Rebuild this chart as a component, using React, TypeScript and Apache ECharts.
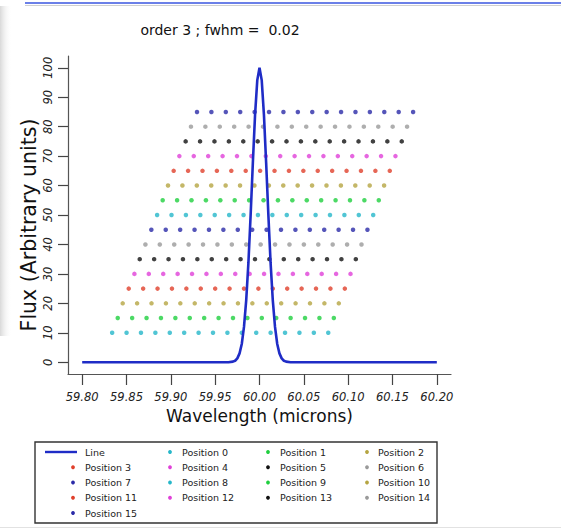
import React, { useEffect, useRef } from "react";
import * as echarts from "echarts";

// ---- text ----
const chartTitle = "order 3 ; fwhm =  0.02";
const xTitle = "Wavelength (microns)";
const yTitle = "Flux (Arbitrary units)";
const lineName = "Line";

// ---- axes (tick range and step) ----
const xTickMin = 59.8;
const xTickMax = 60.2;
const xTickStep = 0.05;
const yTickMin = 0;
const yTickMax = 100;
const yTickStep = 10;
// plotting region extends 4% beyond the tick range on every side
const xPad = 0.016;
const yPad = 4;

// ---- line profile (wavelength, flux) ----
const lineWavelength = [
  59.8, 59.965, 59.97, 59.9725, 59.975, 59.9775, 59.98, 59.9825, 59.985, 59.9875,
  59.99, 59.9925, 59.995, 59.9975, 60.0, 60.0025, 60.005, 60.0075, 60.01, 60.0125,
  60.015, 60.0175, 60.02, 60.0225, 60.025, 60.0275, 60.03, 60.035, 60.2,
];
const lineFlux = [
  0, 0, 0.2, 0.5, 1.3, 3.0, 6.2, 12.0, 21.0, 33.8,
  50.0, 67.7, 84.1, 95.8, 100, 95.8, 84.1, 67.7, 50.0, 33.8,
  21.0, 12.0, 6.2, 3.0, 1.3, 0.5, 0.2, 0, 0,
];

// ---- sampled positions ----
const positionNames = [
  "Position 0", "Position 1", "Position 2", "Position 3",
  "Position 4", "Position 5", "Position 6", "Position 7",
  "Position 8", "Position 9", "Position 10", "Position 11",
  "Position 12", "Position 13", "Position 14", "Position 15",
];
const positionFlux = [10, 15, 20, 25, 30, 35, 40, 45, 50, 55, 60, 65, 70, 75, 80, 85];
const positionStart = [
  59.8338, 59.8401, 59.8457, 59.8525, 59.8589, 59.8649, 59.8713, 59.878,
  59.8845, 59.8908, 59.8968, 59.9032, 59.9096, 59.9167, 59.9227, 59.9295,
];
// wavelength offsets of the 16 samples within one position
const sampleOffsets = [
  0, 0.01625, 0.0325, 0.04875, 0.065, 0.08125, 0.0975, 0.11375,
  0.13, 0.14625, 0.1625, 0.17875, 0.195, 0.21125, 0.2275, 0.24375,
];
const positionColors = [
  "#26b7c9", "#1fcf3f", "#b5a542", "#e0402c", "#e040d8", "#111111", "#9a9a9a", "#2b2ba8",
  "#26b7c9", "#1fcf3f", "#b5a542", "#e0402c", "#e040d8", "#111111", "#9a9a9a", "#2b2ba8",
];
const lineColor = "#1f2cc6";

// ---- layout ----
const FONT = "DejaVu Sans";
const plotLeft = 68;
const plotTop = 56;
const plotWidth = 383;
const plotHeight = 318;

function buildOption(): echarts.EChartsOption {
  const xMin = xTickMin - xPad;
  const xMax = xTickMax + xPad;
  const yMin = yTickMin - yPad;
  const yMax = yTickMax + yPad;
  const pxPerX = plotWidth / (xMax - xMin);
  const pxPerY = plotHeight / (yMax - yMin);

  // second grid spans only the tick range, sharing the same scale
  const tickLeft = plotLeft + xPad * pxPerX;
  const tickWidth = (xTickMax - xTickMin) * pxPerX;
  const tickTop = plotTop + yPad * pxPerY;
  const tickHeight = (yTickMax - yTickMin) * pxPerY;

  const scatterSeries = positionNames.map((name, i) => ({
    type: "scatter" as const,
    name,
    xAxisIndex: 0,
    yAxisIndex: 0,
    symbol: "circle",
    symbolSize: 4.5,
    itemStyle: { color: positionColors[i] },
    data: sampleOffsets.map((o) => [positionStart[i] + o, positionFlux[i]]),
    z: 2,
  }));

  const lineSeries = {
    type: "line" as const,
    name: lineName,
    xAxisIndex: 0,
    yAxisIndex: 0,
    showSymbol: false,
    symbol: "none",
    lineStyle: { color: lineColor, width: 2.6 },
    data: lineWavelength.map((w, i) => [w, lineFlux[i]]),
    z: 3,
  };

  // legend box: 4 columns filled row by row
  const legendEntries = [lineName, ...positionNames];
  const legendMarkerX = [73, 170, 268, 367];
  const legendTextX = [85, 182, 280, 378];
  const legendRowY = 452;
  const legendRowStep = 15.25;
  const legendItems: any[] = [];
  legendEntries.forEach((name, k) => {
    const col = k % 4;
    const row = Math.floor(k / 4);
    const y = legendRowY + row * legendRowStep;
    if (k === 0) {
      legendItems.push({
        type: "line",
        z: 20,
        shape: { x1: 45, y1: y, x2: 77, y2: y },
        style: { stroke: lineColor, lineWidth: 2.4 },
      });
    } else {
      legendItems.push({
        type: "circle",
        z: 20,
        shape: { cx: legendMarkerX[col], cy: y, r: 1.9 },
        style: { fill: positionColors[k - 1] },
      });
    }
    legendItems.push({
      type: "text",
      z: 20,
      x: legendTextX[col],
      y,
      style: {
        text: name,
        fontFamily: FONT,
        fontSize: 9.5,
        fill: "#222",
        textAlign: "left",
        textVerticalAlign: "middle",
      },
    });
  });

  return {
    animation: false,
    backgroundColor: "#ffffff",
    grid: [
      { left: plotLeft, top: plotTop, width: plotWidth, height: plotHeight, containLabel: false },
      { left: tickLeft, top: tickTop, width: tickWidth, height: tickHeight, containLabel: false },
    ],
    xAxis: [
      {
        type: "value",
        gridIndex: 0,
        min: xMin,
        max: xMax,
        axisLine: { show: true, onZero: false, lineStyle: { color: "#555", width: 1.2 } },
        axisTick: { show: false },
        axisLabel: { show: false },
        splitLine: { show: false },
      },
      {
        type: "value",
        gridIndex: 1,
        min: xTickMin,
        max: xTickMax,
        interval: xTickStep,
        offset: yPad * pxPerY,
        axisLine: { show: false, onZero: false },
        axisTick: { show: true, inside: false, length: 11, lineStyle: { color: "#444", width: 1.2 } },
        axisLabel: {
          margin: 17,
          fontFamily: FONT,
          fontSize: 11.5,
          fontStyle: "italic",
          color: "#222",
          formatter: (v: number) => v.toFixed(2),
        },
        splitLine: { show: false },
        name: xTitle,
        nameLocation: "middle",
        nameGap: 33,
        nameTextStyle: { fontFamily: FONT, fontSize: 17, color: "#111" },
      },
    ],
    yAxis: [
      {
        type: "value",
        gridIndex: 0,
        min: yMin,
        max: yMax,
        axisLine: { show: true, onZero: false, lineStyle: { color: "#555", width: 1.2 } },
        axisTick: { show: false },
        axisLabel: { show: false },
        splitLine: { show: false },
      },
      {
        type: "value",
        gridIndex: 1,
        min: yTickMin,
        max: yTickMax,
        interval: yTickStep,
        offset: xPad * pxPerX,
        axisLine: { show: false, onZero: false },
        axisTick: { show: true, inside: false, length: 10, lineStyle: { color: "#444", width: 1.2 } },
        axisLabel: {
          rotate: 90,
          margin: 14,
          fontFamily: FONT,
          fontSize: 11.5,
          fontStyle: "italic",
          color: "#222",
        },
        splitLine: { show: false },
      },
    ],
    series: [...scatterSeries, lineSeries],
    graphic: [
      // window edge decorations
      {
        type: "rect",
        shape: { x: 0, y: 6, width: 12, height: 330 },
        style: {
          fill: new echarts.graphic.LinearGradient(0, 0, 1, 0, [
            { offset: 0, color: "rgba(170,170,170,0.45)" },
            { offset: 1, color: "rgba(255,255,255,0)" },
          ]),
        },
        silent: true,
      },
      {
        type: "line",
        shape: { x1: 25, y1: 3, x2: 561, y2: 3 },
        style: { stroke: "#3a56e0", lineWidth: 1.5 },
        silent: true,
      },
      {
        type: "line",
        shape: { x1: 25, y1: 5.5, x2: 561, y2: 5.5 },
        style: { stroke: "#d0d0d0", lineWidth: 1 },
        silent: true,
      },
      {
        type: "line",
        shape: { x1: 0, y1: 527.5, x2: 561, y2: 527.5 },
        style: { stroke: "#e2e2e2", lineWidth: 1 },
        silent: true,
      },
      // chart title
      {
        type: "text",
        x: 220,
        y: 30,
        style: {
          text: chartTitle,
          fontFamily: FONT,
          fontSize: 14,
          fill: "#111",
          textAlign: "center",
          textVerticalAlign: "middle",
        },
      },
      // y axis title
      {
        type: "text",
        x: 29,
        y: 225,
        rotation: Math.PI / 2,
        style: {
          text: yTitle,
          fontFamily: FONT,
          fontSize: 20.5,
          fill: "#111",
          textAlign: "center",
          textVerticalAlign: "middle",
        },
      },
      // legend frame
      {
        type: "rect",
        z: 10,
        shape: { x: 35, y: 442, width: 402, height: 81 },
        style: { fill: "#ffffff", stroke: "#333", lineWidth: 1.4 },
      },
      ...legendItems,
    ],
  };
}

export default function App() {
  const ref = useRef<HTMLDivElement>(null);
  useEffect(() => {
    if (!ref.current) return;
    const chart = echarts.init(ref.current, undefined, { renderer: "svg" });
    chart.setOption(buildOption());
    return () => chart.dispose();
  }, []);
  return (
    <div
      ref={ref}
      style={{ position: "fixed", left: 0, top: 0, width: 561, height: 529, background: "#fff" }}
    />
  );
}
